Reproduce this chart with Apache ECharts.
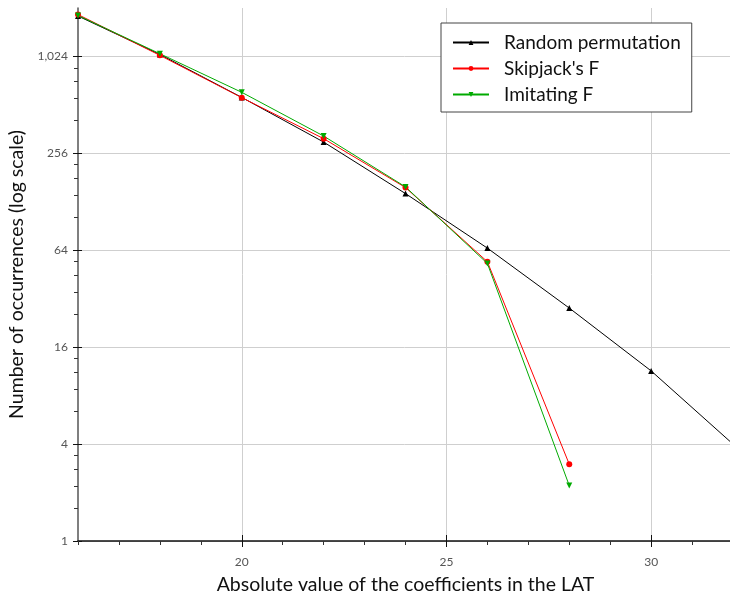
<!DOCTYPE html>
<html>
<head>
<meta charset="utf-8">
<script src="https://cdn.jsdelivr.net/npm/echarts@6/dist/echarts.min.js"></script>
<style>
  html, body { margin: 0; padding: 0; background: #fff; }
  #chart { width: 730px; height: 597px; }
</style>
</head>
<body>
<div id="chart"></div>
<script>
// data (y = number of occurrences, log2 scale)
var xs = [16, 18, 20, 22, 24, 26, 28, 30, 32];
var randomPerm = [1826, 1054, 570, 301, 144, 66, 28, 11.4, 4.0];
var skipjackF = [1865, 1040, 568, 316, 157, 54.3, 3.0];
var imitatingF = [1840, 1065, 613, 328, 158.5, 53, 2.21];

var xMajor = [20, 25, 30];
var xMinor = [16, 17, 18, 19, 21, 22, 23, 24, 26, 27, 28, 29, 31, 32];
var yMajor = [1, 4, 16, 64, 256, 1024];

// minor y ticks: 4 linear splits between major ticks
var yMinor = [];
for (var i = 0; i < yMajor.length - 1; i++) {
  var a = yMajor[i], b = yMajor[i + 1];
  for (var k = 1; k < 5; k++) yMinor.push(a + k * (b - a) / 5);
}

function pairs(vals) {
  return vals.map(function (v, i) { return [xs[i], v]; });
}

var FONT = 'Lato';
var chart = echarts.init(document.getElementById('chart'));

function xAx(extra) {
  return Object.assign({
    type: 'value', min: 16, max: 32, position: 'bottom',
    axisLine: { show: false },
    axisLabel: { show: false },
    splitLine: { show: false }
  }, extra);
}
function yAx(extra) {
  return Object.assign({
    type: 'log', logBase: 2, min: 1, max: 2048, position: 'left',
    axisLine: { show: false },
    axisLabel: { show: false },
    splitLine: { show: false }
  }, extra);
}

chart.setOption({
  animation: false,
  textStyle: { fontFamily: FONT },
  grid: { left: 78, top: 8, width: 655, bottom: 56, containLabel: false, outerBoundsMode: 'none' },
  xAxis: [
    xAx({
      name: 'Absolute value of the coefficients in the LAT',
      nameLocation: 'middle', nameGap: 34,
      nameTextStyle: { fontFamily: FONT, fontSize: 19.5, color: '#111' },
      axisLine: { show: true, onZero: false, lineStyle: { color: '#111', width: 1.5 } },
      axisTick: { customValues: xMajor, length: 6, lineStyle: { color: '#111' } },
      axisLabel: { show: true, customValues: xMajor, margin: 15, fontSize: 12, color: '#555', fontFamily: FONT },
      splitLine: { show: true, lineStyle: { color: '#cfcfcf', width: 1 } }
    }),
    xAx({ axisTick: { customValues: xMinor, length: 4, lineStyle: { color: '#333' } } }),
    xAx({ axisTick: { customValues: xMajor, inside: true, length: 6, lineStyle: { color: '#111' } } })
  ],
  yAxis: [
    yAx({
      name: 'Number of occurrences (log scale)',
      nameLocation: 'middle', nameGap: 48,
      nameTextStyle: { fontFamily: FONT, fontSize: 19.5, color: '#111' },
      axisLine: { show: true, onZero: false, lineStyle: { color: '#555', width: 1.5 } },
      axisTick: { customValues: yMajor, length: 5, lineStyle: { color: '#111' } },
      axisLabel: { show: true, customValues: yMajor, margin: 10, fontSize: 12, color: '#555', fontFamily: FONT },
      splitLine: { show: true, lineStyle: { color: '#cfcfcf', width: 1 } }
    }),
    yAx({ axisTick: { customValues: yMinor, length: 4, lineStyle: { color: '#333' } } }),
    yAx({ axisTick: { customValues: yMajor, inside: true, length: 4, lineStyle: { color: '#111' } } })
  ],
  legend: {
    orient: 'vertical', left: 441, top: 23,
    backgroundColor: '#fff', borderColor: '#444', borderWidth: 1, borderRadius: 0,
    padding: [10, 11, 8, 11],
    itemWidth: 36, itemHeight: 6, itemGap: 7,
    textStyle: { fontFamily: FONT, fontSize: 19, color: '#111', padding: [0, 0, 0, 10] },
    data: ['Random permutation', "Skipjack's F", 'Imitating F']
  },
  series: [
    {
      name: 'Random permutation', type: 'line', data: pairs(randomPerm),
      symbol: 'triangle', symbolSize: 6, clip: true,
      itemStyle: { color: '#000' }, lineStyle: { color: '#000', width: 1 }
    },
    {
      name: "Skipjack's F", type: 'line', data: pairs(skipjackF),
      symbol: 'circle', symbolSize: 6, clip: true,
      itemStyle: { color: '#ff0000' }, lineStyle: { color: '#ff0000', width: 1 }
    },
    {
      name: 'Imitating F', type: 'line', data: pairs(imitatingF),
      symbol: 'triangle', symbolRotate: 180, symbolSize: 6, clip: true,
      itemStyle: { color: '#00aa00' }, lineStyle: { color: '#00aa00', width: 1 }
    }
  ]
});
</script>
</body>
</html>
